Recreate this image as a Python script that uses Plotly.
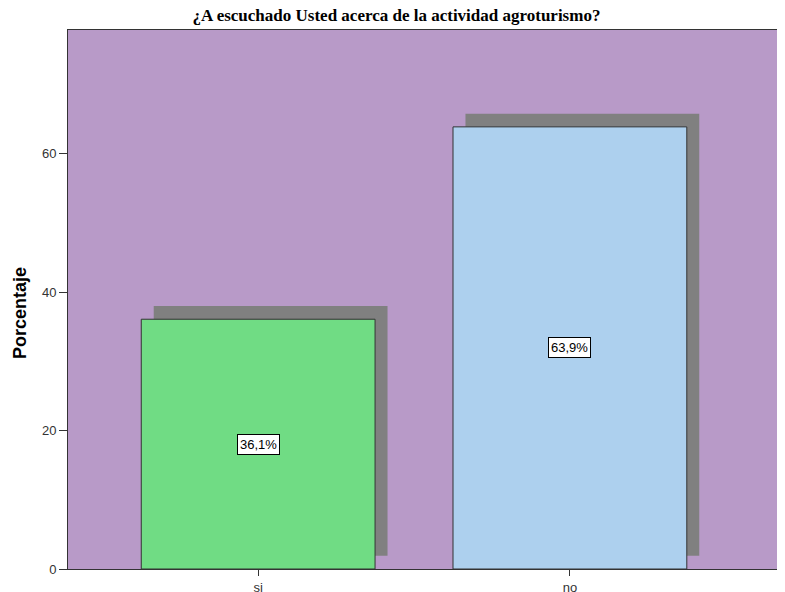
import plotly.graph_objects as go

categories = ['si', 'no']
percentages = [36.1, 63.9]
bar_colors = ['#70DC84', '#ADD0EE']
labels = ['36,1%', '63,9%']

positions = list(range(len(categories)))

# shadow offset, in axis units
shadow_dx = 0.04
shadow_dy = 1.9

fig = go.Figure()

# drop shadow behind each bar
fig.add_trace(go.Bar(
    x=[p + shadow_dx for p in positions],
    y=percentages,
    base=[shadow_dy] * len(percentages),
    width=0.75,
    marker=dict(color='#808080', line=dict(width=0)),
    hoverinfo='skip',
    showlegend=False
))

fig.add_trace(go.Bar(
    x=positions,
    y=percentages,
    width=0.75,
    marker=dict(color=bar_colors, line=dict(color='#333333', width=1)),
    showlegend=False
))

for p, v, t in zip(positions, percentages, labels):
    fig.add_annotation(
        x=p, y=v / 2, text=t, showarrow=False,
        font=dict(family='Liberation Sans, Arial', size=13, color='black'),
        bgcolor='white', bordercolor='black', borderwidth=1, borderpad=2
    )

# y title sits a bit below the middle of the axis in the original
fig.add_annotation(
    text='<b>Porcentaje</b>', textangle=-90, showarrow=False,
    xref='paper', yref='paper', x=-0.067, y=0.475,
    xanchor='center', yanchor='middle',
    font=dict(family='Liberation Sans, Arial', size=18, color='black')
)

# page body has an 8px margin, so the figure is sized to fill the rest
fig.update_layout(
    width=777, height=587,
    barmode='overlay',
    paper_bgcolor='white',
    plot_bgcolor='#B89AC8',
    margin=dict(l=60, r=0, t=22, b=23),
    title=dict(
        text='<b>¿A escuchado Usted acerca de la actividad agroturismo?</b>',
        font=dict(family='Liberation Serif, Times New Roman', size=17, color='black'),
        x=0.5, xanchor='center', xref='container', y=0.988, yanchor='middle'
    ),
    xaxis=dict(
        range=[-0.61, 1.69],
        tickvals=positions, ticktext=categories,
        ticks='outside', ticklen=6, tickcolor='#333333',
        showgrid=False, zeroline=False,
        showline=True, linecolor='#333333', linewidth=1, mirror=True,
        tickfont=dict(family='Liberation Sans, Arial', size=13, color='#333333')
    ),
    yaxis=dict(
        range=[0, 77.9],
        tickvals=[0, 20, 40, 60],
        ticks='outside', ticklen=8, tickcolor='#333333',
        showgrid=False, zeroline=False,
        showline=True, linecolor='#333333', linewidth=1,
        tickfont=dict(family='Liberation Sans, Arial', size=13, color='#333333')
    )
)

fig.write_html("out.html")
